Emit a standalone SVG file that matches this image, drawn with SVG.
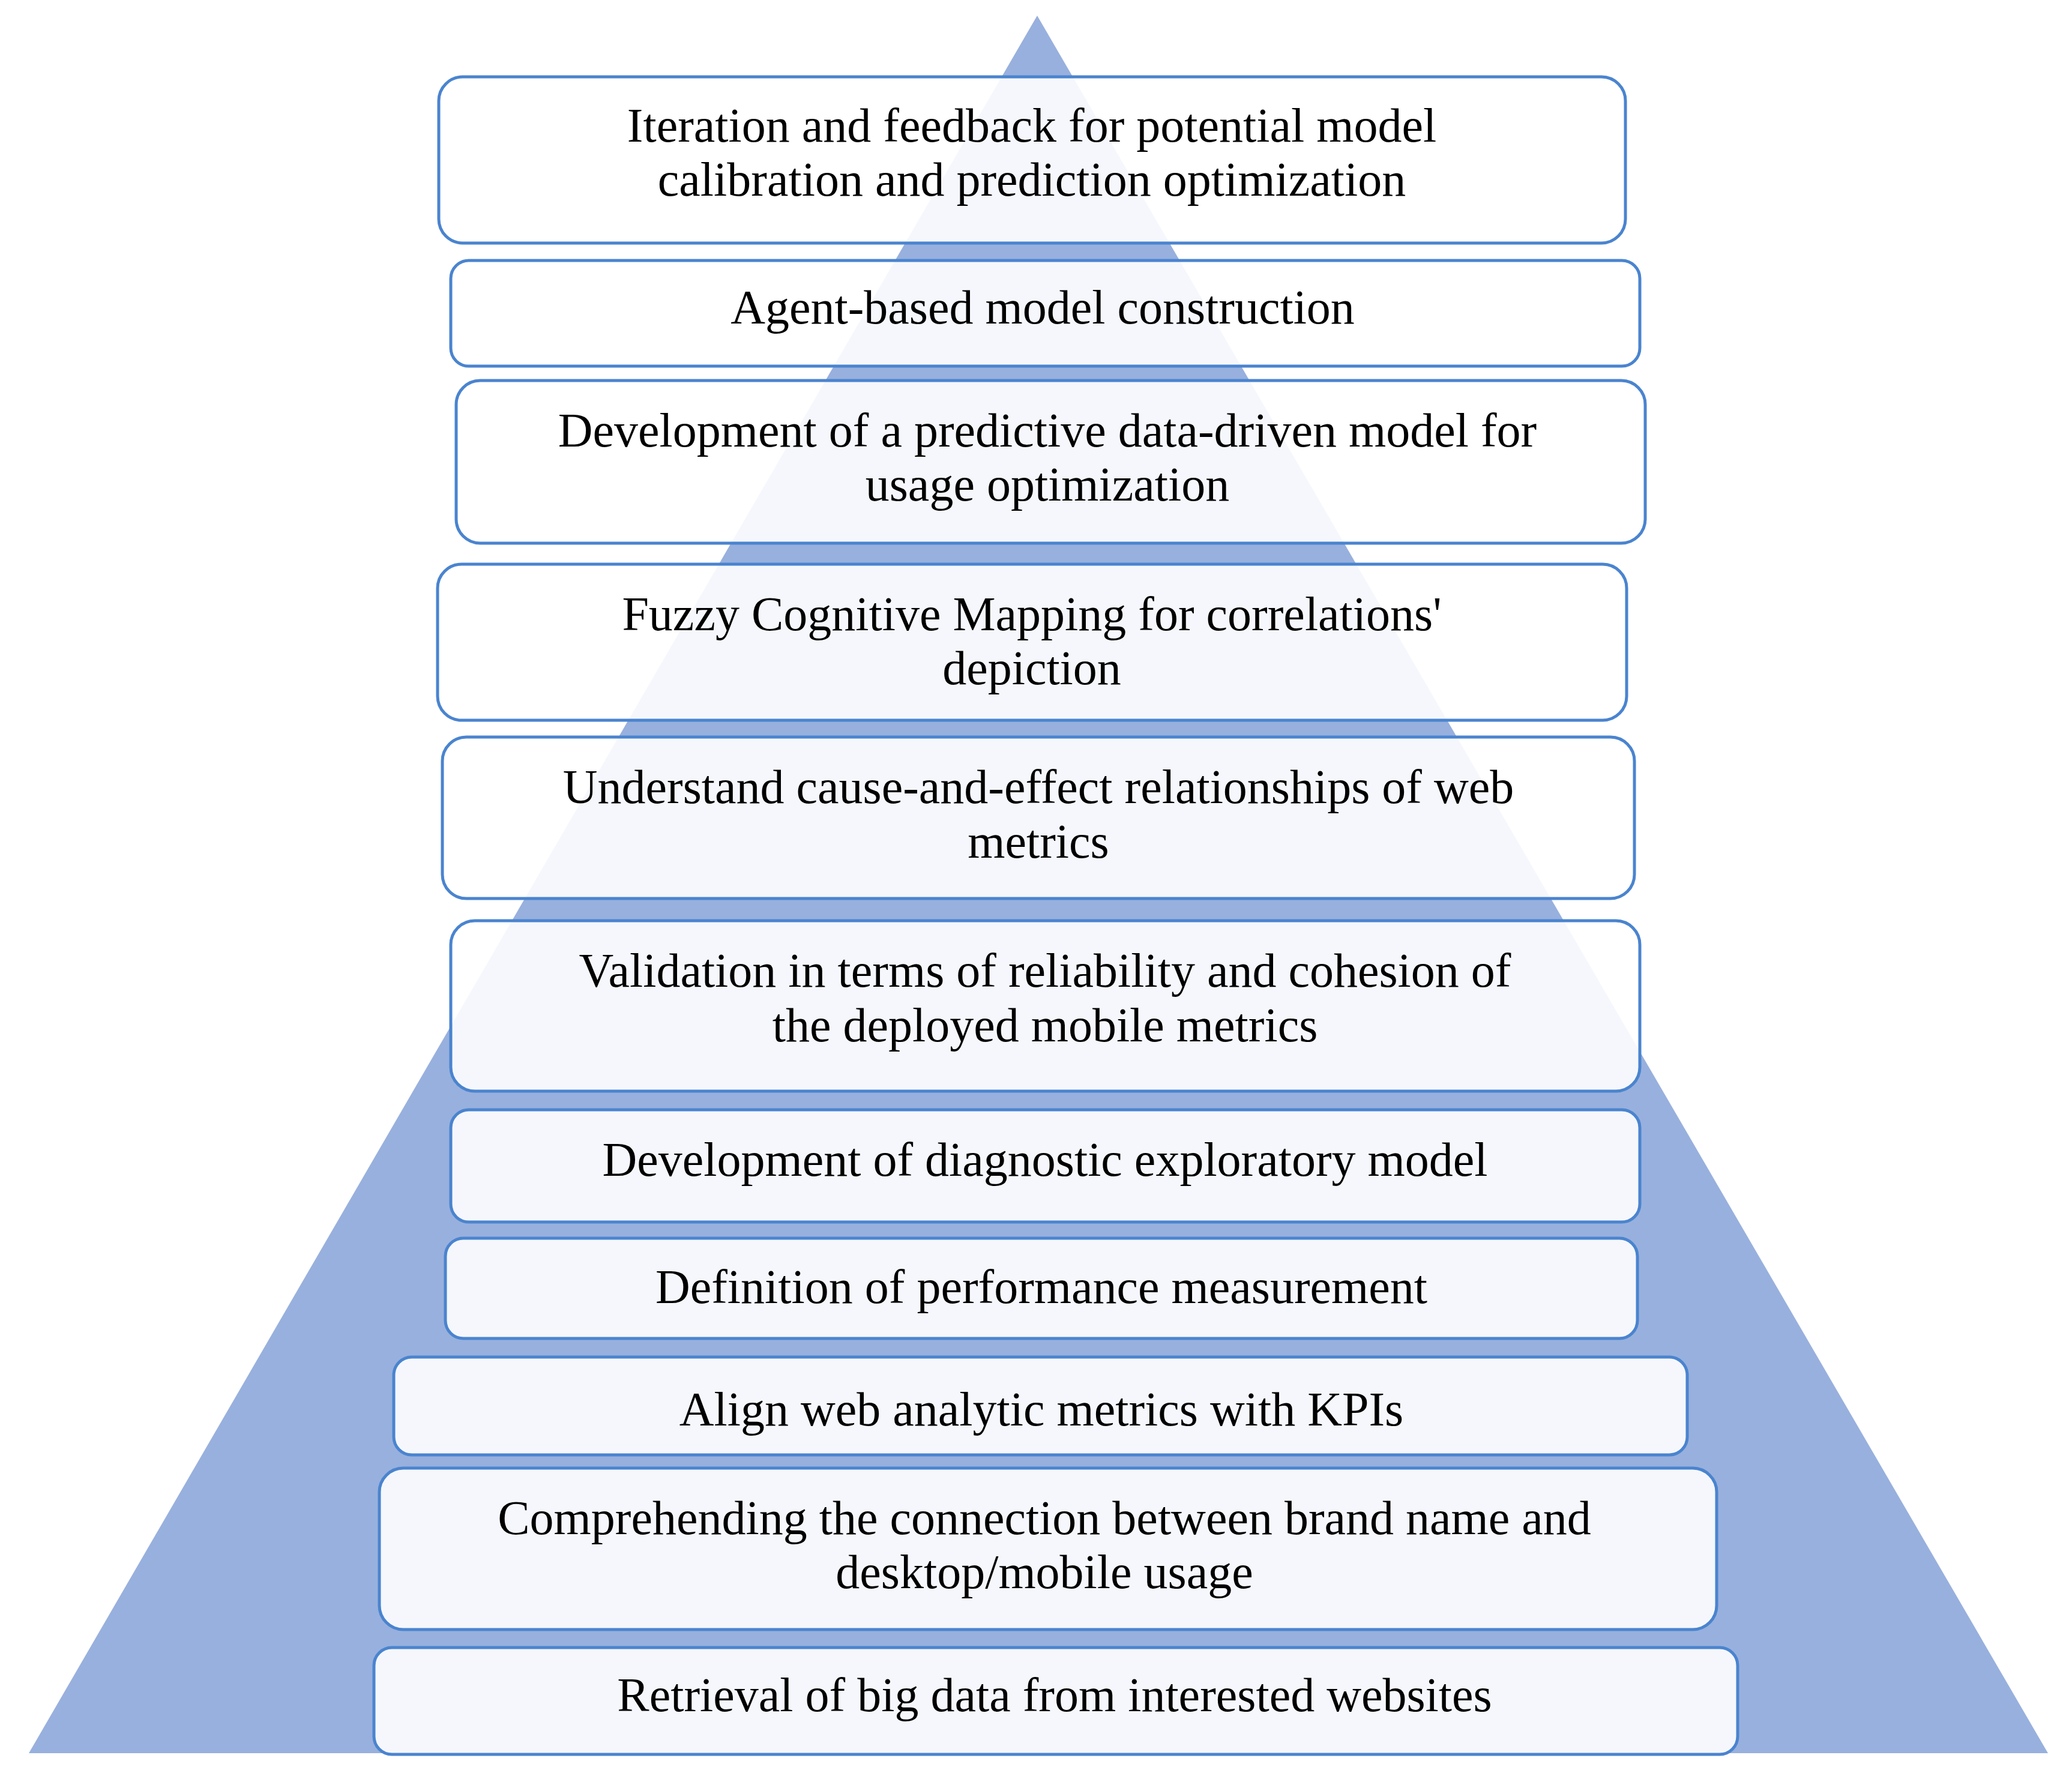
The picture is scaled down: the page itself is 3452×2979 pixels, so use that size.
<svg xmlns="http://www.w3.org/2000/svg" width="3452" height="2979" viewBox="0 0 3452 2979">
<style>
.b{fill:#ffffff;fill-opacity:0.9;stroke:#4a84cf;stroke-width:5}
.t{font-family:"Liberation Serif","Times New Roman",serif;font-size:80px;fill:#000;text-anchor:middle}
</style>
<rect width="3452" height="2979" fill="#fff"/>
<polygon id="pyramid" points="1728,26 3412,2921 48,2921" fill="#98b0dd"/>
<g id="n1"><rect class="b" x="731" y="128" width="1977" height="277" rx="40"/><text class="t" x="1719" y="236">Iteration and feedback for potential model</text><text class="t" x="1719" y="326">calibration and prediction optimization</text></g>
<g id="n2"><rect class="b" x="751" y="434" width="1981" height="176" rx="30"/><text class="t" x="1737" y="539">Agent-based model construction</text></g>
<g id="n3"><rect class="b" x="760" y="634" width="1981" height="271" rx="40"/><text class="t" x="1745" y="744">Development of a predictive data-driven model for</text><text class="t" x="1745" y="834">usage optimization</text></g>
<g id="n4"><rect class="b" x="729" y="940" width="1981" height="260" rx="40"/><text class="t" x="1719" y="1050">Fuzzy Cognitive Mapping for correlations'</text><text class="t" x="1719" y="1140">depiction</text></g>
<g id="n5"><rect class="b" x="737" y="1228" width="1986" height="269" rx="40"/><text class="t" x="1730" y="1338">Understand cause-and-effect relationships of web</text><text class="t" x="1730" y="1429">metrics</text></g>
<g id="n6"><rect class="b" x="751" y="1534" width="1981" height="284" rx="40"/><text class="t" x="1741" y="1644">Validation in terms of reliability and cohesion of</text><text class="t" x="1741" y="1735">the deployed mobile metrics</text></g>
<g id="n7"><rect class="b" x="751" y="1849" width="1981" height="187" rx="30"/><text class="t" x="1741" y="1959">Development of diagnostic exploratory model</text></g>
<g id="n8"><rect class="b" x="742" y="2063" width="1986" height="167" rx="30"/><text class="t" x="1735" y="2171">Definition of performance measurement</text></g>
<g id="n9"><rect class="b" x="656" y="2261" width="2155" height="163" rx="30"/><text class="t" x="1735" y="2375">Align web analytic metrics with KPIs</text></g>
<g id="n10"><rect class="b" x="632" y="2446" width="2228" height="269" rx="40"/><text class="t" x="1740" y="2556">Comprehending the connection between brand name and</text><text class="t" x="1740" y="2646">desktop/mobile usage</text></g>
<g id="n11"><rect class="b" x="623" y="2745" width="2272" height="178" rx="30"/><text class="t" x="1757" y="2851">Retrieval of big data from interested websites</text></g>
<g id="connectors"></g>
</svg>
